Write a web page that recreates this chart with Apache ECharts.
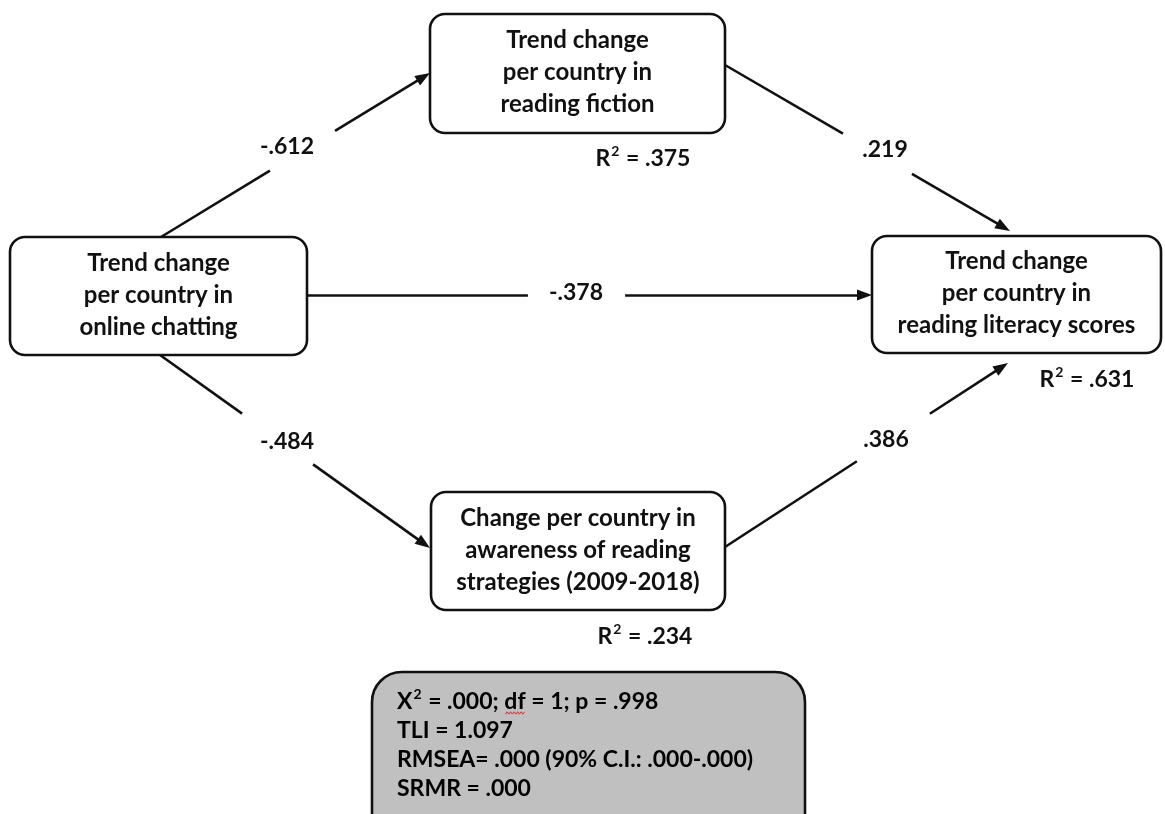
<!DOCTYPE html>
<html><head><meta charset="utf-8">
<script src="https://cdn.jsdelivr.net/npm/echarts@6/dist/echarts.min.js"></script>
<style>html,body{margin:0;padding:0;background:#fff}#c{width:1165px;height:814px}</style>
</head><body><div id="c"></div>
<script>
// ---------------- data ----------------
const nodeNames = ['chatting', 'fiction', 'strategies', 'literacy'];
const nodeLabels = [
  ['Trend change', 'per country in', 'online chatting'],
  ['Trend change', 'per country in', 'reading fiction'],
  ['Change per country in', 'awareness of reading', 'strategies (2009-2018)'],
  ['Trend change', 'per country in', 'reading literacy scores']
];
const pathFrom = ['chatting', 'fiction', 'chatting', 'chatting', 'strategies'];
const pathTo = ['fiction', 'literacy', 'literacy', 'strategies', 'literacy'];
const pathCoefficients = ['-.612', '.219', '-.378', '-.484', '.386'];
const rSquaredNodes = ['fiction', 'literacy', 'strategies'];
const rSquaredValues = ['.375', '.631', '.234'];
const chiSquare = '.000', degreesOfFreedom = '1', pValue = '.998';
const fitStatistics = [
  'TLI = 1.097',
  'RMSEA= .000 (90% C.I.: .000-.000)',
  'SRMR = .000'
];

// ---------------- layout (hidden axes span the canvas in px) ----------------
const W = 1165, H = 814;
const boxLayout = {
  chatting: [10, 237, 307, 355],
  fiction: [430, 14, 725, 133],
  strategies: [431, 492, 725, 610],
  literacy: [872, 236, 1161, 353]
};
const statsLayout = [372, 672, 805, 850];
const pathLayout = [
  { s: [161, 237], e: [430, 73], gap: [0.405, 0.647], lab: [287, 147] },
  { s: [725, 65], e: [1010, 231], gap: [0.414, 0.656], lab: [885, 150] },
  { s: [307, 295], e: [872, 295], gap: [0.391, 0.563], lab: [576, 293] },
  { s: [160, 355], e: [430, 548], gap: [0.304, 0.567], lab: [287, 442] },
  { s: [725, 547], e: [1008, 363], gap: [0.466, 0.724], lab: [886, 440] }
];
const rSquaredLayout = { fiction: [643, 159], literacy: [1087, 380], strategies: [645, 637] };
const ARROW = [11, 15];
const INK = '#111111';
const FAMILY = 'Lato, "Open Sans", sans-serif';
const WEIGHT = 'bold';

// ---------------- derived series data ----------------
function lerp(a, b, t) { return [a[0] + (b[0] - a[0]) * t, a[1] + (b[1] - a[1]) * t]; }
const tailSegs = [], headSegs = [];
pathLayout.forEach((p, i) => {
  tailSegs.push({ name: pathFrom[i] + '-' + pathTo[i], coords: [p.s, lerp(p.s, p.e, p.gap[0])] });
  const dx = p.e[0] - p.s[0], dy = p.e[1] - p.s[1];
  const len = Math.sqrt(dx * dx + dy * dy);
  const back = ARROW[1] / 2 / len;
  headSegs.push({ name: pathFrom[i] + '-' + pathTo[i], coords: [lerp(p.s, p.e, p.gap[1]), lerp(p.s, p.e, 1 - back)] });
});
const boxData = nodeNames.map(n => boxLayout[n]);
const coefData = pathCoefficients.map((v, i) => ({ value: pathLayout[i].lab, name: v }));
const r2Data = rSquaredValues.map((v, i) => ({ value: rSquaredLayout[rSquaredNodes[i]], name: v }));

const richBase = {
  a: { fontFamily: FAMILY, fontWeight: WEIGHT, fontSize: 23, lineHeight: 29, color: INK, verticalAlign: 'middle' },
  sup: { fontFamily: FAMILY, fontWeight: WEIGHT, fontSize: 14, lineHeight: 20, color: INK, verticalAlign: 'top', padding: [0, 1, 0, 1] }
};

// measure for the spell-check squiggle under "df"
const mctx = document.createElement('canvas').getContext('2d');
mctx.font = WEIGHT + ' 23px ' + FAMILY;
const prefixW = mctx.measureText('X').width;
mctx.font = WEIGHT + ' 14px ' + FAMILY;
const supW = mctx.measureText('2').width + 2;
mctx.font = WEIGHT + ' 23px ' + FAMILY;
const dfOffset = prefixW + supW + mctx.measureText(' = ' + chiSquare + '; ').width;
const dfWidth = mctx.measureText('df').width;

const chart = echarts.init(document.getElementById('c'), null, { renderer: 'canvas' });
chart.setOption({
  backgroundColor: '#ffffff',
  animation: false,
  grid: { left: 0, right: 0, top: 0, bottom: 0 },
  xAxis: { type: 'value', min: 0, max: W, show: false },
  yAxis: { type: 'value', min: 0, max: H, inverse: true, show: false },
  series: [
    {
      type: 'lines', coordinateSystem: 'cartesian2d', z: 2,
      symbol: 'none',
      lineStyle: { color: INK, width: 2.6, opacity: 1, curveness: 0 },
      data: tailSegs
    },
    {
      type: 'lines', coordinateSystem: 'cartesian2d', z: 2,
      symbol: ['none', 'triangle'],
      symbolSize: [1, ARROW],
      lineStyle: { color: INK, width: 2.6, opacity: 1, curveness: 0 },
      data: headSegs
    },
    {
      type: 'custom', coordinateSystem: 'cartesian2d', z: 3, clip: false,
      data: boxData,
      renderItem: function (params, api) {
        const p0 = api.coord([api.value(0), api.value(1)]);
        const p1 = api.coord([api.value(2), api.value(3)]);
        const lines = nodeLabels[params.dataIndex];
        return {
          type: 'group',
          children: [
            { type: 'rect', shape: { x: p0[0], y: p0[1], width: p1[0] - p0[0], height: p1[1] - p0[1], r: 15 },
              style: { fill: '#ffffff', stroke: INK, lineWidth: 2.6 } },
            { type: 'text', style: {
                text: lines.join('\n'), x: (p0[0] + p1[0]) / 2, y: (p0[1] + p1[1]) / 2 - 1,
                align: 'center', verticalAlign: 'middle', lineHeight: 32,
                font: WEIGHT + ' 24px ' + FAMILY, fill: INK } }
          ]
        };
      }
    },
    {
      type: 'custom', coordinateSystem: 'cartesian2d', z: 3, clip: false,
      data: [statsLayout],
      renderItem: function (params, api) {
        const p0 = api.coord([api.value(0), api.value(1)]);
        const p1 = api.coord([api.value(2), api.value(3)]);
        const tx = p0[0] + 25, ty = p0[1] + 15;
        const wx = tx + dfOffset + 1, wy = ty + 26;
        const pts = [];
        const n = Math.max(4, Math.round(dfWidth / 2));
        for (let k = 0; k <= n; k++) pts.push([wx + k * (dfWidth - 2) / n, wy + (k % 2 ? -1.2 : 1.2)]);
        const first = '{a|X}{sup|2}{a| = ' + chiSquare + '; df = ' + degreesOfFreedom + '; p = ' + pValue + '}';
        const rest = fitStatistics.map(s => '{a|' + s + '}');
        return {
          type: 'group',
          children: [
            { type: 'rect', shape: { x: p0[0], y: p0[1], width: p1[0] - p0[0], height: p1[1] - p0[1], r: 30 },
              style: { fill: '#c0c0c0', stroke: INK, lineWidth: 2.6 } },
            { type: 'text', style: {
                text: [first].concat(rest).join('\n'), x: tx, y: ty,
                align: 'left', verticalAlign: 'top', rich: richBase } },
            { type: 'polyline', shape: { points: pts }, style: { stroke: '#d03030', lineWidth: 1, fill: null } }
          ]
        };
      }
    },
    {
      type: 'scatter', z: 4, symbolSize: 0, silent: true,
      itemStyle: { opacity: 1 },
      data: coefData,
      label: { show: true, position: 'inside', formatter: '{a|{b}}', rich: richBase }
    },
    {
      type: 'scatter', z: 4, symbolSize: 0, silent: true,
      itemStyle: { opacity: 1 },
      data: r2Data,
      label: { show: true, position: 'inside', formatter: '{a|R}{sup|2}{a| = {b}}', rich: richBase }
    }
  ]
});
</script></body></html>
